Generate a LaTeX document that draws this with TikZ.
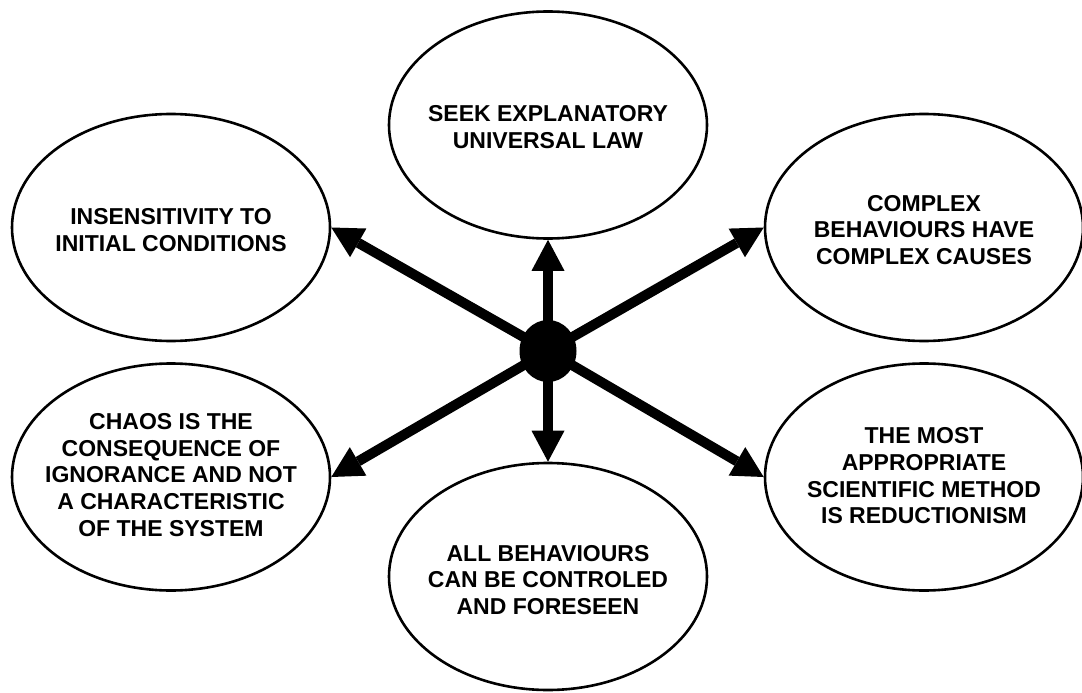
\documentclass[tikz,border=0pt]{standalone}
\usepackage{fontspec}
\setmainfont{Liberation Sans}
\usetikzlibrary{shapes.geometric,arrows.meta}
\tikzset{
  bubble/.style={ellipse,draw=black,line width=2.6pt,inner sep=0pt,minimum width=318pt,minimum height=227pt},
  txt/.style={align=center,font=\fontsize{23}{26.7}\selectfont\bfseries,inner sep=0pt},
  arr/.style={line width=10pt,-{Triangle[length=31pt,width=33pt,line width=0pt]}},
  hub/.style={ellipse,fill=black,inner sep=0pt,minimum width=57pt,minimum height=62pt}
}
\begin{document}
\begin{tikzpicture}[x=1pt,y=-1pt]
\useasboundingbox (0,0) rectangle (1082,693);
\node[bubble] (top) at (548,125) {};
\node[bubble] (lt) at (171,227.5) {};
\node[bubble] (rt) at (924,227.5) {};
\node[bubble] (lb) at (171,477) {};
\node[bubble] (rb) at (924,477) {};
\node[bubble] (bot) at (548,576.5) {};
\node[txt] (ttop) at (548,127) {SEEK EXPLANATORY\\UNIVERSAL LAW};
\node[txt] (tlt) at (171,230) {INSENSITIVITY TO\\INITIAL CONDITIONS};
\node[txt] (trt) at (924,230) {COMPLEX\\BEHAVIOURS HAVE\\COMPLEX CAUSES};
\node[txt] (tlb) at (171,475) {CHAOS IS THE\\CONSEQUENCE OF\\IGNORANCE AND NOT\\A CHARACTERISTIC\\OF THE SYSTEM};
\node[txt] (trb) at (924,476) {THE MOST\\APPROPRIATE\\SCIENTIFIC METHOD\\IS REDUCTIONISM};
\node[txt] (tbot) at (548,580) {ALL BEHAVIOURS\\CAN BE CONTROLED\\AND FORESEEN};
\coordinate (c) at (548,351);
\draw[arr] (c) -- (top.south);
\draw[arr] (c) -- (bot.north);
\draw[arr] (c) -- (lt.east);
\draw[arr] (c) -- (rt.west);
\draw[arr] (c) -- (lb.east);
\draw[arr] (c) -- (rb.west);
\node[hub] (hubnode) at (c) {};
\end{tikzpicture}
\end{document}
